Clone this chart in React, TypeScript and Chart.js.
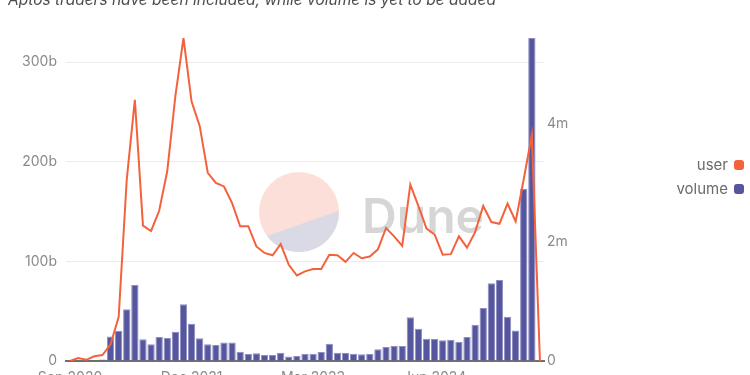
import React, { useEffect, useRef } from "react";
import { Chart, registerables } from "chart.js";

Chart.register(...registerables);
Chart.defaults.borderColor = "rgba(0,0,0,0)";

const months: string[] = [
  "Sep 2020", "Oct 2020", "Nov 2020", "Dec 2020",
  "Jan 2021", "Feb 2021", "Mar 2021", "Apr 2021", "May 2021", "Jun 2021",
  "Jul 2021", "Aug 2021", "Sep 2021", "Oct 2021", "Nov 2021", "Dec 2021",
  "Jan 2022", "Feb 2022", "Mar 2022", "Apr 2022", "May 2022", "Jun 2022",
  "Jul 2022", "Aug 2022", "Sep 2022", "Oct 2022", "Nov 2022", "Dec 2022",
  "Jan 2023", "Feb 2023", "Mar 2023", "Apr 2023", "May 2023", "Jun 2023",
  "Jul 2023", "Aug 2023", "Sep 2023", "Oct 2023", "Nov 2023", "Dec 2023",
  "Jan 2024", "Feb 2024", "Mar 2024", "Apr 2024", "May 2024", "Jun 2024",
  "Jul 2024", "Aug 2024", "Sep 2024", "Oct 2024", "Nov 2024", "Dec 2024",
  "Jan 2025", "Feb 2025", "Mar 2025", "Apr 2025", "May 2025", "Jun 2025",
  "Jul 2025",
];

// users, in millions
const userValues: number[] = [
  0.0, 0.05, 0.02, 0.08, 0.1, 0.28, 0.74, 3.06, 4.4, 2.28,
  2.19, 2.53, 3.2, 4.46, 5.44, 4.37, 3.96, 3.17, 3.0, 2.94,
  2.66, 2.27, 2.27, 1.93, 1.82, 1.78, 1.97, 1.62, 1.44, 1.51,
  1.55, 1.55, 1.79, 1.78, 1.67, 1.82, 1.73, 1.76, 1.88, 2.24,
  2.1, 1.94, 2.97, 2.61, 2.23, 2.13, 1.79, 1.8, 2.1, 1.91,
  2.17, 2.61, 2.34, 2.31, 2.65, 2.35, 3.06, 3.81, 0,
];

// volume, in billions
const volumeValues: number[] = [
  0, 0, 0, 0, 1.5, 24.5, 30.4, 51.9, 76.3, 21.8,
  16.8, 24, 23, 29.4, 56.9, 37.4, 22.8, 16.8, 16.1, 18.5,
  18.5, 9.4, 7.1, 7.7, 6, 6, 8.4, 4.4, 5, 7.4,
  7.4, 9, 17.4, 8.4, 8, 7.4, 6.7, 7, 11.7, 14,
  15, 15, 44, 32.4, 22.4, 22, 20.8, 21.4, 19.4, 24,
  36.5, 53.2, 78, 81.3, 44.5, 30.7, 172.9, 324.4, 0,
];

const leftTicks: number[] = [0, 100, 200, 300];
const rightTicks: number[] = [0, 2, 4];
const xLabelEvery = 15;

const TITLE = "Aptos traders have been included, while volume is yet to be added";
const FONT = "Inter, 'Noto Sans', sans-serif";

const watermarkPlugin = {
  id: "duneWatermark",
  beforeDatasetsDraw(chart: any) {
    const ctx = chart.ctx as CanvasRenderingContext2D;
    const cx = 299, cy = 212, r = 40;
    ctx.save();
    ctx.beginPath();
    ctx.arc(cx, cy, r, 0, Math.PI * 2);
    ctx.fillStyle = "#fcdfd8";
    ctx.fill();
    ctx.beginPath();
    const a0 = -0.03;
    const a1 = (143 * Math.PI) / 180;
    ctx.arc(cx, cy, r, a0, a1);
    ctx.closePath();
    ctx.fillStyle = "#d9dae6";
    ctx.fill();
    ctx.font = `600 100px ${FONT}`;
    const w = ctx.measureText("Dune").width;
    const size = (100 * 122) / w;
    ctx.font = `600 ${size}px ${FONT}`;
    ctx.fillStyle = "#d6d6d6";
    ctx.textBaseline = "alphabetic";
    ctx.textAlign = "left";
    ctx.fillText("Dune", 362, 233);
    ctx.restore();
  },
};

const legendPlugin = {
  id: "rightLegend",
  afterDraw(chart: any) {
    const ctx = chart.ctx as CanvasRenderingContext2D;
    const items = chart.data.datasets.map((d: any) => ({
      label: d.label,
      color: d.legendColor,
    }));
    ctx.save();
    ctx.font = `15px ${FONT}`;
    ctx.textAlign = "right";
    ctx.textBaseline = "middle";
    items.forEach((it: any, i: number) => {
      const y = 165 + i * 24;
      ctx.fillStyle = "#6b6b6b";
      ctx.fillText(it.label, 728, y);
      ctx.fillStyle = it.color;
      ctx.beginPath();
      (ctx as any).roundRect(734, y - 5, 10, 10, 3);
      ctx.fill();
    });
    ctx.restore();
  },
};

export default function App() {
  const ref = useRef<HTMLCanvasElement | null>(null);

  useEffect(() => {
    if (!ref.current) return;
    const chart = new Chart(ref.current, {
      type: "bar",
      data: {
        labels: months,
        datasets: [
          {
            type: "line",
            label: "user",
            data: userValues,
            yAxisID: "y1",
            borderColor: "#f4623d",
            backgroundColor: "#f4623d",
            borderWidth: 2,
            pointRadius: 0,
            tension: 0,
            order: 0,
            legendColor: "#f4623d",
          } as any,
          {
            type: "bar",
            label: "volume",
            data: volumeValues,
            yAxisID: "y",
            backgroundColor: "#56569e",
            borderColor: "#8e8ec2",
            borderWidth: 1,
            barPercentage: 0.9,
            categoryPercentage: 1,
            order: 1,
            legendColor: "#56569e",
          } as any,
        ],
      },
      options: {
        animation: false,
        responsive: false,
        devicePixelRatio: 1,
        layout: { padding: { top: 38, right: 166, left: 0, bottom: 0 } },
        plugins: {
          legend: { display: false },
          tooltip: { enabled: false },
          title: { display: false },
        },
        scales: {
          x: {
            offset: true,
            grid: { display: false, drawTicks: false, drawOnChartArea: false },
            border: { display: true, color: "#6f6f6f", width: 2 },
            ticks: {
              autoSkip: false,
              maxRotation: 0,
              minRotation: 0,
              padding: 8,
              color: "#8a8a8a",
              font: { family: FONT, size: 14 },
              callback: (_v: any, i: number) => (i % xLabelEvery === 0 ? months[i] : ""),
            },
            afterFit: (s: any) => {
              s.height = 39;
            },
          },
          y: {
            position: "left",
            min: 0,
            max: Math.max(...volumeValues),
            grid: { color: "#ebebf0", lineWidth: 1, drawTicks: false },
            border: { display: false },
            ticks: {
              stepSize: 100,
              includeBounds: false,
              padding: 9,
              color: "#8a8a8a",
              font: { family: FONT, size: 14 },
              callback: (v: any) => (v === 0 ? "0" : `${v}b`),
            },
            afterBuildTicks: (s: any) => {
              s.ticks = leftTicks.map((v) => ({ value: v }));
            },
            afterFit: (s: any) => {
              s.width = 66;
            },
          },
          y1: {
            position: "right",
            min: 0,
            max: Math.max(...userValues),
            grid: { display: false, drawTicks: false, drawOnChartArea: false },
            border: { display: false },
            ticks: {
              stepSize: 2,
              includeBounds: false,
              padding: 3,
              color: "#8a8a8a",
              font: { family: FONT, size: 14 },
              callback: (v: any) => (v === 0 ? "0" : `${v}m`),
            },
            afterBuildTicks: (s: any) => {
              s.ticks = rightTicks.map((v) => ({ value: v }));
            },
            afterFit: (s: any) => {
              s.width = 40;
            },
          },
        },
      },
      plugins: [watermarkPlugin, legendPlugin],
    });
    return () => chart.destroy();
  }, []);

  return (
    <div style={{ position: "fixed", left: 0, top: 0, width: 750, height: 400, overflow: "hidden", background: "#fff" }}>
      <canvas ref={ref} width={750} height={400} style={{ position: "absolute", left: 0, top: 0, width: 750, height: 400 }} />
      <div
        style={{
          position: "absolute",
          left: 8,
          top: -10,
          fontFamily: FONT,
          fontStyle: "italic",
          fontSize: 15.5,
          lineHeight: "20px",
          color: "#4d4d4d",
          whiteSpace: "nowrap",
        }}
      >
        {TITLE}
      </div>
    </div>
  );
}
